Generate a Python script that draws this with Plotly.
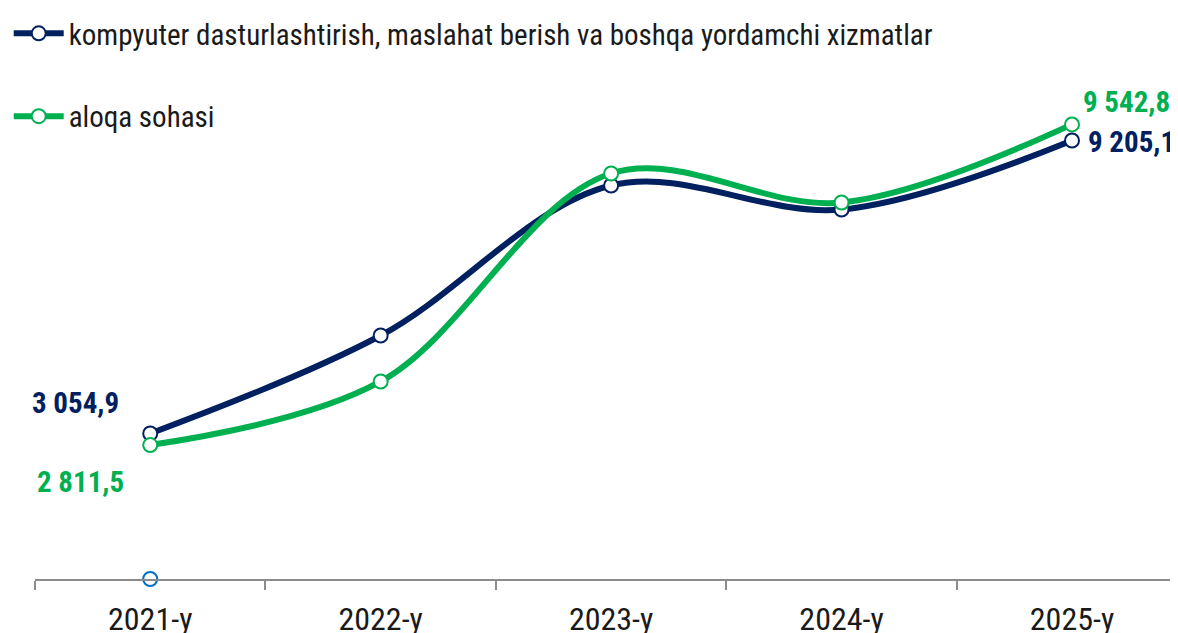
import plotly.graph_objects as go

# data
years = ['2021-y', '2022-y', '2023-y', '2024-y', '2025-y']
kompyuter = [3054.9, 5111, 8260, 7756, 9205.1]
aloqa = [2811.5, 4146, 8512, 7903, 9542.8]
base = [0]  # lone point at zero under 2021-y

name_komp = 'kompyuter dasturlashtirish, maslahat berish va boshqa yordamchi xizmatlar'
name_aloqa = 'aloqa sohasi'

navy = '#002060'
green = '#00B050'
font_name = 'Roboto Condensed, Roboto, sans-serif'


def fmt(v):
    # "3 054,9" style numbers
    return f'{v:,.1f}'.replace(',', ' ').replace('.', ',')


fig = go.Figure()

fig.add_trace(go.Scatter(x=years, y=kompyuter, name=name_komp, mode='lines+markers',
                         line=dict(color=navy, width=6, shape='spline', smoothing=1),
                         marker=dict(size=14, color='white', line=dict(color=navy, width=2)),
                         legend='legend'))
fig.add_trace(go.Scatter(x=years, y=aloqa, name=name_aloqa, mode='lines+markers',
                         line=dict(color=green, width=6, shape='spline', smoothing=1),
                         marker=dict(size=14, color='white', line=dict(color=green, width=2)),
                         legend='legend2'))
fig.add_trace(go.Scatter(x=years[:1], y=base, mode='markers', showlegend=False,
                         marker=dict(size=14, color='white', line=dict(color='#0070C0', width=2)),
                         hoverinfo='skip', cliponaxis=False))

# value labels at the first and last points
labels = [
    (years[0], kompyuter[0], navy, -75, 30),
    (years[0], aloqa[0], green, -70, -37),
    (years[-1], aloqa[-1], green, 54, 22),
    (years[-1], kompyuter[-1], navy, 59, -2),
]
for x, y, c, dx, dy in labels:
    fig.add_annotation(x=x, y=y, text=fmt(y), showarrow=False, xshift=dx, yshift=dy,
                       font=dict(family=font_name, size=29, color=c, weight='bold'))

# page has an 8px body margin, so the figure is 8px smaller each way
fig.update_layout(
    width=1170, height=625,
    margin=dict(l=27, r=0, t=0, b=54),
    plot_bgcolor='white', paper_bgcolor='white',
    font=dict(family=font_name, color='#1a1a1a'),
    legend=dict(x=-0.023, y=1.0, xanchor='left', yanchor='top', itemwidth=50,
                font=dict(size=29, color='#1a1a1a'), bgcolor='rgba(0,0,0,0)'),
    legend2=dict(x=-0.023, y=0.855, xanchor='left', yanchor='top', itemwidth=50,
                 font=dict(size=29, color='#1a1a1a'), bgcolor='rgba(0,0,0,0)'),
    xaxis=dict(range=[-0.5, 4.46], showline=True, linecolor='#8c8c8c', linewidth=2,
               ticks='outside', tickson='boundaries', ticklen=9, tickcolor='#8c8c8c',
               tickwidth=2, tickfont=dict(size=32, color='#1a1a1a'), ticklabelstandoff=11,
               showgrid=False, automargin=False),
    yaxis=dict(range=[0, 11986], visible=False, showgrid=False, zeroline=False,
               automargin=False),
)

fig.write_html('out.html')
